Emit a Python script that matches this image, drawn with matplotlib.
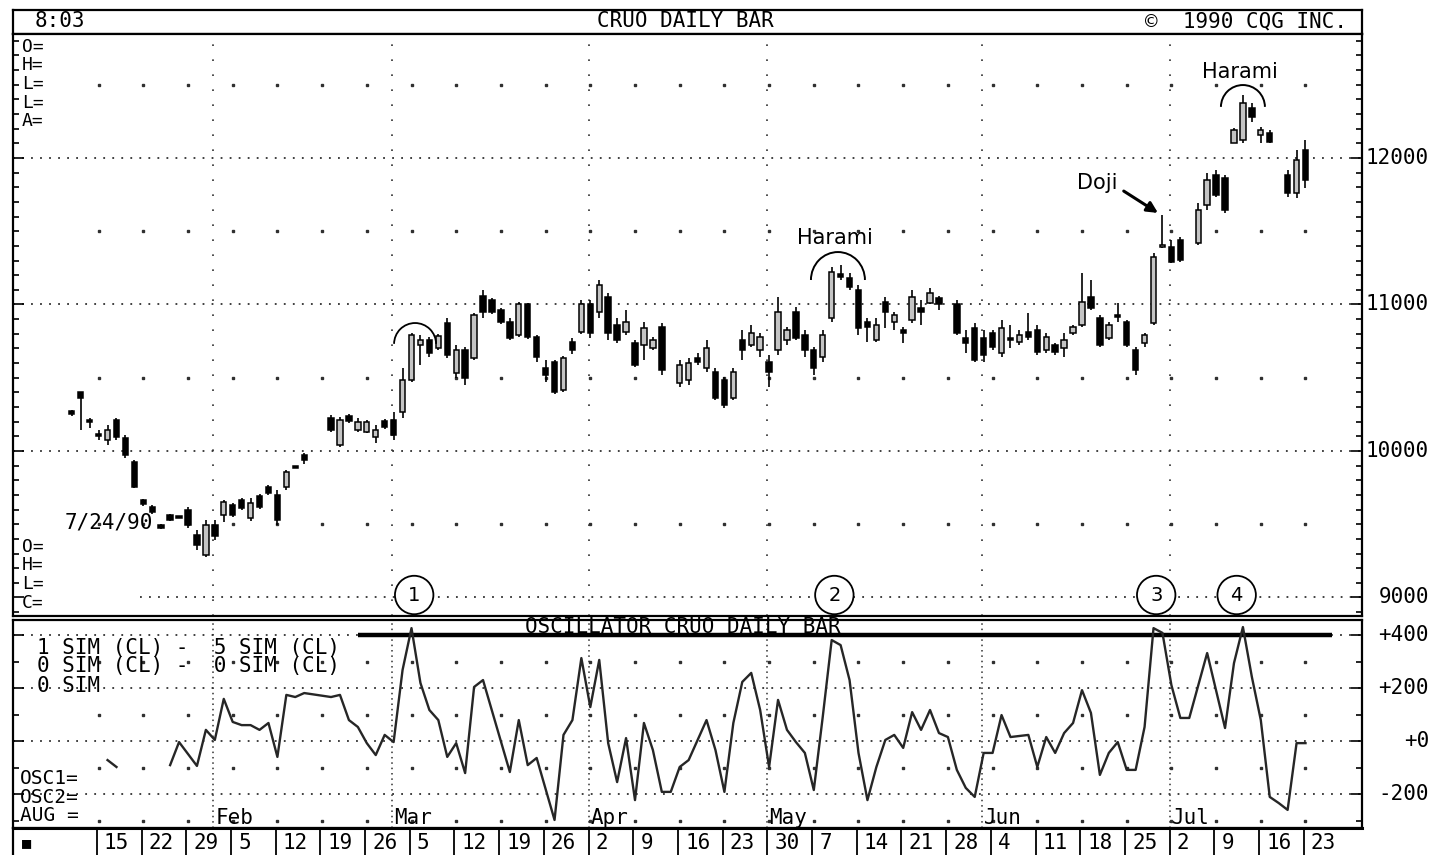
import numpy as np
import pandas as pd
import matplotlib
matplotlib.use('Agg')
import matplotlib.pyplot as plt
import matplotlib.transforms as mtransforms
from matplotlib.patches import Arc

START = '1990-01-15'
MONO = 'DejaVu Sans Mono'
SANS = 'DejaVu Sans'

# CRUO daily bars 1990 (month-day), values as quoted by CQG
bar_dates = ['01-10', '01-11', '01-12', '01-15', '01-16', '01-17', '01-18', '01-19',
             '01-22', '01-23', '01-24', '01-25', '01-26', '01-29', '01-30', '01-31', '02-01', '02-02',
             '02-05', '02-06', '02-07', '02-08', '02-09', '02-12', '02-13', '02-14', '02-15',
             '02-20', '02-21', '02-22', '02-23', '02-26', '02-27', '02-28', '03-01', '03-02',
             '03-05', '03-06', '03-07', '03-08', '03-09', '03-12', '03-13', '03-14', '03-15', '03-16',
             '03-19', '03-20', '03-21', '03-22', '03-23', '03-26', '03-27', '03-28', '03-29', '03-30',
             '04-02', '04-03', '04-04', '04-05', '04-06', '04-09', '04-10', '04-11', '04-12',
             '04-16', '04-17', '04-18', '04-19', '04-20', '04-23', '04-24', '04-25', '04-26', '04-27',
             '04-30', '05-01', '05-02', '05-03', '05-04', '05-07', '05-08', '05-09', '05-10', '05-11',
             '05-14', '05-15', '05-16', '05-17', '05-18', '05-21', '05-22', '05-23', '05-24', '05-25',
             '05-29', '05-30', '05-31', '06-01', '06-04', '06-05', '06-06', '06-07', '06-08',
             '06-11', '06-12', '06-13', '06-14', '06-15', '06-18', '06-19', '06-20', '06-21', '06-22',
             '06-25', '06-26', '06-27', '06-28', '06-29', '07-02', '07-03', '07-05', '07-06',
             '07-09', '07-10', '07-11', '07-12', '07-13', '07-16', '07-17', '07-19', '07-20', '07-23']

bar_open = [10270, 10400, 10210, 10110, 10075, 10210, 10090, 9925,
            9665, 9620, 9495, 9565, 9550, 9600, 9425, 9290, 9495, 9565,
            9630, 9665, 9545, 9695, 9755, 9700, 9755, 9895, 9975,
            10225, 10040, 10240, 10145, 10130, 10095, 10205, 10210, 10265,
            10485, 10725, 10760, 10705, 10875, 10530, 10690, 10635, 11060, 11030,
            10960, 10880, 10790, 11000, 10780, 10565, 10610, 10415, 10745, 10810,
            11000, 10950, 11050, 10860, 10810, 10735, 10725, 10705, 10845,
            10465, 10485, 10635, 10565, 10540, 10485, 10360, 10760, 10725, 10690,
            10610, 10690, 10760, 10950, 10790, 10690, 10640, 10910, 11210, 11180,
            11100, 10880, 10760, 11015, 10880, 10825, 10895, 10975, 11010, 11045,
            11000, 10770, 10840, 10770, 10805, 10670, 10770, 10745, 10810,
            10825, 10690, 10725, 10705, 10805, 10860, 11050, 10910, 10770, 10930,
            10880, 10690, 10735, 10875, 11400, 11390, 11440, 11420, 11680,
            11885, 11865, 12100, 12125, 12340, 12155, 12170, 11885, 11760, 12055]

bar_high = [10280, 10405, 10225, 10145, 10175, 10225, 10110, 9940,
            9670, 9630, 9500, 9570, 9555, 9620, 9460, 9530, 9530, 9665,
            9645, 9680, 9680, 9705, 9770, 9735, 9870, 9900, 9985,
            10245, 10230, 10250, 10225, 10210, 10175, 10220, 10265, 10565,
            10805, 10790, 10780, 10800, 10910, 10725, 10710, 10940, 11100, 11045,
            10975, 10910, 11015, 11010, 10790, 10620, 10620, 10650, 10770, 11030,
            11030, 11165, 11080, 10910, 10960, 10760, 10880, 10780, 10875,
            10620, 10635, 10670, 10760, 10565, 10505, 10565, 10825, 10860, 10805,
            10655, 11050, 10845, 10985, 10825, 10710, 10825, 11255, 11270, 11215,
            11135, 10910, 10910, 11050, 10950, 10845, 11100, 11030, 11110, 11060,
            11030, 10825, 10875, 10825, 10825, 10895, 10860, 10825, 10940,
            10860, 10805, 10740, 10805, 10860, 11215, 11165, 10930, 10880, 11010,
            10895, 10710, 10805, 11350, 11610, 11440, 11460, 11695, 11900,
            11920, 11885, 12205, 12430, 12375, 12210, 12190, 11920, 12055, 12125]

bar_low = [10240, 10145, 10155, 10075, 10040, 10075, 9950, 9745,
           9625, 9570, 9470, 9525, 9540, 9475, 9325, 9275, 9395, 9515,
           9550, 9595, 9520, 9605, 9700, 9495, 9735, 9885, 9910,
           10130, 10025, 10190, 10130, 10125, 10055, 10150, 10075, 10225,
           10470, 10585, 10640, 10690, 10635, 10500, 10450, 10620, 10910, 10935,
           10865, 10760, 10780, 10765, 10610, 10470, 10390, 10405, 10660, 10800,
           10770, 10910, 10760, 10735, 10790, 10575, 10620, 10690, 10520,
           10435, 10450, 10590, 10540, 10350, 10295, 10350, 10620, 10710, 10640,
           10435, 10655, 10725, 10760, 10640, 10520, 10610, 10880, 11165, 11100,
           10790, 10745, 10745, 10840, 10825, 10735, 10875, 10860, 11000, 10960,
           10790, 10670, 10610, 10610, 10690, 10640, 10705, 10725, 10760,
           10655, 10670, 10655, 10640, 10790, 10845, 10960, 10710, 10760, 10880,
           10710, 10520, 10710, 10860, 11385, 11285, 11290, 11405, 11645,
           11735, 11625, 12100, 12100, 12245, 12100, 12100, 11735, 11725, 11795]

bar_close = [10250, 10365, 10200, 10105, 10145, 10095, 9975, 9755,
             9640, 9585, 9475, 9530, 9545, 9495, 9360, 9495, 9420, 9650,
             9565, 9610, 9645, 9620, 9715, 9530, 9855, 9890, 9940,
             10145, 10210, 10205, 10200, 10200, 10145, 10165, 10110, 10485,
             10790, 10760, 10670, 10785, 10655, 10690, 10500, 10930, 10950, 10950,
             10880, 10770, 11000, 10780, 10640, 10520, 10405, 10635, 10690, 11000,
             10805, 11135, 10805, 10760, 10880, 10585, 10840, 10760, 10555,
             10590, 10600, 10610, 10705, 10360, 10315, 10540, 10690, 10805, 10780,
             10540, 10950, 10825, 10770, 10690, 10565, 10790, 11220, 11190, 11120,
             10840, 10845, 10860, 10950, 10930, 10805, 11050, 10950, 11080, 11005,
             10805, 10735, 10620, 10655, 10710, 10840, 10760, 10790, 10780,
             10675, 10780, 10675, 10760, 10845, 11015, 10975, 10725, 10860, 10915,
             10725, 10555, 10790, 11325, 11405, 11290, 11305, 11645, 11850,
             11745, 11645, 12190, 12375, 12280, 12190, 12110, 11760, 11985, 11850]

# oscillator: 1 SIM (CL) - 5 SIM (CL)
osc_dates = ['01-16', '01-17', '01-18', '01-25', '01-26', '01-30', '01-31', '02-01', '02-02',
             '02-05', '02-06', '02-07', '02-08', '02-09', '02-12', '02-13', '02-14', '02-15',
             '02-20', '02-21', '02-22', '02-23', '02-26', '02-27', '02-28', '03-01', '03-02',
             '03-05', '03-06', '03-07', '03-08', '03-09', '03-12', '03-13', '03-14', '03-15',
             '03-20', '03-21', '03-22', '03-23', '03-27', '03-28', '03-29', '03-30',
             '04-02', '04-03', '04-04', '04-05', '04-06', '04-09', '04-10', '04-11', '04-12', '04-13',
             '04-16', '04-17', '04-19', '04-20', '04-23', '04-24', '04-25', '04-26', '04-27',
             '04-30', '05-01', '05-02', '05-03', '05-04', '05-07', '05-08', '05-09', '05-10', '05-11',
             '05-14', '05-15', '05-16', '05-17', '05-18', '05-21', '05-22', '05-23', '05-24', '05-25',
             '05-28', '05-29', '05-30', '05-31', '06-01', '06-04', '06-05', '06-06', '06-07', '06-08',
             '06-11', '06-12', '06-13', '06-14', '06-15', '06-18', '06-19', '06-20', '06-21', '06-22',
             '06-25', '06-26', '06-27', '06-28', '06-29', '07-02', '07-03', '07-04', '07-06',
             '07-10', '07-11', '07-12', '07-13', '07-16', '07-17', '07-18', '07-19', '07-20', '07-23']
osc_vals = [-72, -98, np.nan, -91, -4, -94, 42, 4, 159,
            72, 60, 60, 42, 68, -60, 174, 166, 181,
            166, 174, 79, 53, -8, -53, 23, -4, 268,
            426, 219, 117, 79, -60, -8, -121, 204, 230,
            -117, 79, -91, -64, -298, 23, 79, 313,
            128, 306, -8, -155, 11, -223, 68, -34, -192, -192,
            -98, -72, 79, -34, -192, 68, 223, 257, 117,
            -98, 155, 42, -4, -45, -185, 91, 381, 362, 230,
            -45, -223, -98, 4, 23, -26, 109, 42, 117, 30,
            15, -109, -177, -211, -45, -45, 98, 15, 19, 23,
            -98, 15, -45, 30, 68, 192, 106, -128, -45, -4,
            -109, -109, 53, 426, 408, 211, 87, 87, 332,
            49, 294, 430, 242, 79, -211, -234, -260, -8, -8]
osc_level = 400
osc_level_span = ['02-23', '07-26']

month_dates = ['02-01', '03-01', '04-02', '04-30', '06-01', '07-02']
month_names = ['Feb', 'Mar', 'Apr', 'May', 'Jun', 'Jul']

price_major = [9000, 10000, 11000, 12000]
price_half = [9500, 10500, 11500, 12500]
osc_major = [-200, 0, 200, 400]
osc_half = [-300, -100, 100, 300]
osc_labels = ['-200', '+0', '+200', '+400']

peak_dates = ['03-05', '05-09', '06-28', '07-11']
peak_labels = ['1', '2', '3', '4']


def day_index(md):
    d = np.array(['1990-' + s for s in md], dtype='datetime64[D]')
    return np.busday_count(START, d)


W, H = 1430, 855


def box(x0, y0, x1, y1):
    return [x0 / W, 1 - y1 / H, (x1 - x0) / W, (y1 - y0) / H]


def ftext(px, py, s, **kw):
    kw.setdefault('family', MONO)
    kw.setdefault('va', 'center')
    fig.text(px / W, 1 - py / H, s, **kw)


fig = plt.figure(figsize=(14.3, 8.55), dpi=100)
fig.patch.set_facecolor('white')

hdr = fig.add_axes(box(13, 10, 1362, 34))
ax = fig.add_axes(box(13, 34, 1362, 616))
ax2 = fig.add_axes(box(13, 620, 1362, 828))
ax3 = fig.add_axes(box(13, 828, 1362, 855))

XL = (-9.575, 141.32)
for a in (ax, ax2, ax3):
    a.set_xlim(*XL)
    a.set_xticks([])
    for s in a.spines.values():
        s.set_linewidth(1.6)
hdr.set_xticks([])
hdr.set_yticks([])
for s in hdr.spines.values():
    s.set_linewidth(1.6)

ax.set_ylim(8873.7, 12846.4)
ax2.set_ylim(-328.3, 456.7)

mondays = pd.date_range(START, '1990-07-23', freq='W-MON')
mon_idx = np.busday_count(START, mondays.values.astype('datetime64[D]'))
month_idx = day_index(month_dates) - 0.2

dots = (0, (1, 4))
ink = '#303030'

# ---- price panel grid
for lev in price_major:
    xmin = 0.094 if lev == 9000 else 0
    ax.axhline(lev, xmin=xmin, color=ink, lw=1.3, ls=dots, zorder=1)
for lev in price_half:
    ax.plot(mon_idx, np.full(len(mon_idx), lev), ls='none', marker='s', ms=1.8, color=ink, zorder=1)
ax.vlines(month_idx, 8873.7, 12846.4, colors=ink, lw=1.2, linestyles=[(0, (1, 8))], zorder=1)

ax.set_yticks(price_major)
ax.set_yticks(np.arange(8900, 12900, 100), minor=True)
ax.tick_params(axis='y', which='both', direction='in', left=True, right=True,
               labelleft=False, labelright=False, width=1.2)
ax.tick_params(axis='y', which='major', length=8)
ax.tick_params(axis='y', which='minor', length=4)

# ---- candles
x = day_index(bar_dates)
o = np.array(bar_open, float)
h = np.array(bar_high, float)
l = np.array(bar_low, float)
c = np.array(bar_close, float)
up = c >= o
lo = np.minimum(o, c)
ht = np.abs(c - o)
small = ht < 14
lo = np.where(small, (o + c) / 2 - 7, lo)
ht = np.where(small, 14, ht)

ax.vlines(x, l, h, colors='black', lw=1.2, zorder=3)
ax.bar(x[up], ht[up], bottom=lo[up], width=0.6, facecolor='#c4c4c4',
       edgecolor='black', linewidth=1.1, zorder=4)
ax.bar(x[~up], ht[~up], bottom=lo[~up], width=0.6, facecolor='black',
       edgecolor='black', linewidth=1.1, zorder=4)

# right axis labels
tr = mtransforms.blended_transform_factory(ax.transAxes, ax.transData)
for lev in price_major:
    ax.text(1.0497, lev, str(lev), transform=tr, ha='right', va='center',
            family=MONO, fontsize=15, clip_on=False)

# annotations
ax.add_patch(Arc((82.7, 11167), 6.04, 382, theta1=5, theta2=175, lw=1.4, color='black', zorder=5))
ax.text(82.4, 11454, 'Harami', family=SANS, fontsize=15, ha='center', va='center')
ax.add_patch(Arc((128.0, 12348), 4.92, 300, theta1=21, theta2=159, lw=1.4, color='black', zorder=5))
ax.text(127.7, 12587, 'Harami', family=SANS, fontsize=15, ha='center', va='center')
ax.add_patch(Arc((35.4, 10730), 4.7, 287, theta1=32, theta2=148, lw=1.3, color='black', zorder=5))
ax.annotate('Doji', xy=(118.5, 11625), xytext=(111.7, 11829), textcoords='data',
            family=SANS, fontsize=15, ha='center', va='center',
            arrowprops=dict(arrowstyle='-|>', lw=2.2, color='black', mutation_scale=16,
                            shrinkA=3, shrinkB=0, relpos=(1, 0.3)))

for d, lab in zip(day_index(peak_dates) + 0.3, peak_labels):
    ax.text(d, 9017, lab, family=SANS, fontsize=14, ha='center', va='center', zorder=6,
            bbox=dict(boxstyle='circle,pad=0.5', fc='white', ec='black', lw=1.3))

# ---- oscillator panel
for lev in osc_major:
    ax2.axhline(lev, color=ink, lw=1.3, ls=dots, zorder=1)
for lev in osc_half:
    ax2.plot(mon_idx, np.full(len(mon_idx), lev), ls='none', marker='s', ms=1.8, color=ink, zorder=1)
ax2.vlines(month_idx, -328.3, 456.7, colors=ink, lw=1.1, linestyles=[(0, (1, 2.5))], zorder=1)

span = day_index(osc_level_span)
ax2.hlines(osc_level, span[0], span[1], colors='black', lw=3.2, zorder=3)
ax2.plot(day_index(osc_dates), osc_vals, color='#262626', lw=1.7, zorder=4)

ax2.set_yticks(osc_major)
ax2.set_yticks(np.arange(-300, 500, 100), minor=True)
ax2.tick_params(axis='y', which='both', direction='in', left=True, right=True,
                labelleft=False, labelright=False, width=1.2)
ax2.tick_params(axis='y', which='major', length=8)
ax2.tick_params(axis='y', which='minor', length=4)
tr2 = mtransforms.blended_transform_factory(ax2.transAxes, ax2.transData)
for lev, lab in zip(osc_major, osc_labels):
    ax2.text(1.0497, lev, lab, transform=tr2, ha='right', va='center',
             family=MONO, fontsize=15, clip_on=False)
for mi, name in zip(month_idx, month_names):
    ax2.text(mi + 0.25, -291, name, family=MONO, fontsize=15, ha='left', va='center')

# ---- date row
ax3.set_ylim(0, 1)
ax3.set_yticks([])
ax3.spines['right'].set_visible(False)
ax3.spines['bottom'].set_visible(False)
ax3.spines['top'].set_linewidth(2.2)
ax3.vlines(mon_idx - 0.2, 0, 1, colors='black', lw=1.3)
for mi, dt in zip(mon_idx, mondays):
    ax3.text(mi + 0.6, 0.45, str(dt.day), family=MONO, fontsize=15, ha='left', va='center')
ftext(22, 843, '\u25a0', fontsize=11)

# ---- header and terminal labels
ftext(35, 21, '8:03', fontsize=15)
ftext(685, 21, 'CRUO DAILY BAR', fontsize=15, ha='center')
ftext(1347, 21, '\u00a9  1990 CQG INC.', fontsize=15, ha='right')

for py, s in zip([47, 65, 84, 103, 121], ['O=', 'H=', 'L=', 'L=', 'A=']):
    ftext(22, py, s, fontsize=13)
for py, s in zip([547, 565, 584, 603], ['O=', 'H=', 'L=', 'C=']):
    ftext(22, py, s, fontsize=13)
ftext(65, 523, '7/24/90', fontsize=15)

ftext(683, 627, 'OSCILLATOR CRUO DAILY BAR', fontsize=15, ha='center')
ftext(37, 648, '1 SIM (CL) -  5 SIM (CL)', fontsize=15)
ftext(37, 666, '0 SIM (CL) -  0 SIM (CL)', fontsize=15)
ftext(37, 686, '0 SIM', fontsize=15)
ftext(20, 778, 'OSC1=', fontsize=14)
ftext(20, 797, 'OSC2=', fontsize=14)
ftext(20, 815, 'AUG =', fontsize=14)

fig.savefig('out.png', dpi=100, facecolor='white')
